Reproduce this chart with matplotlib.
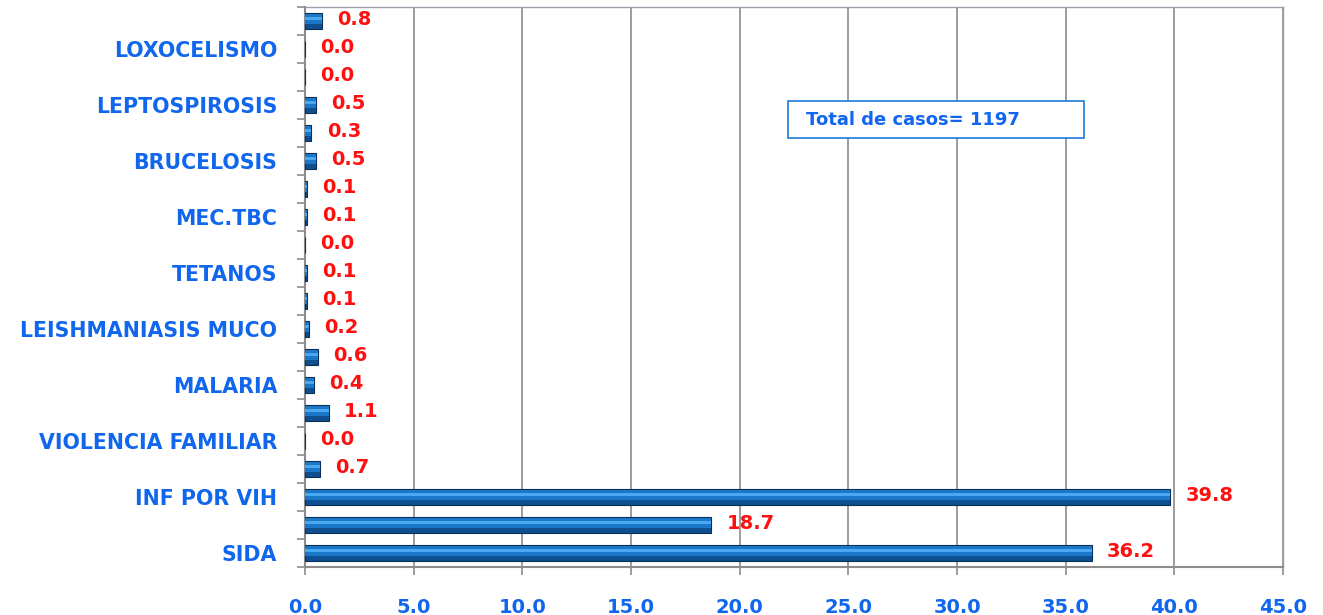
import matplotlib
matplotlib.use("Agg")
import matplotlib.pyplot as plt
from matplotlib.patches import Rectangle
import numpy as np

# bottom to top; only every other row carries a name in the original
categories = ["SIDA", "", "INF POR VIH", "", "VIOLENCIA FAMILIAR", "",
              "MALARIA", "", "LEISHMANIASIS MUCO", "", "TETANOS", "",
              "MEC.TBC", "", "BRUCELOSIS", "", "LEPTOSPIROSIS", "",
              "LOXOCELISMO", ""]
values = [36.2, 18.7, 39.8, 0.7, 0.0, 1.1, 0.4, 0.6, 0.2, 0.1,
          0.1, 0.0, 0.1, 0.1, 0.5, 0.3, 0.5, 0.0, 0.0, 0.8]
xticks = [0, 5, 10, 15, 20, 25, 30, 35, 40, 45]
total_text = "Total de casos= 1197"

blue_txt = "#1166ee"
gray = "#8c8c8c"

fig = plt.figure(figsize=(13.23, 6.15), dpi=100)
ax = fig.add_axes([0.2305, 0.078, 0.7393, 0.9106])

y = np.arange(len(values))
ax.barh(y, values, height=0.58, color="#0f4f8f", edgecolor="#0b2f57",
        linewidth=0.8, zorder=3)
# lighter bands to mimic the cylinder shading
ax.barh(y + 0.06, values, height=0.36, color="#1b78c8", linewidth=0, zorder=4)
ax.barh(y + 0.09, values, height=0.12, color="#4aa8ee", linewidth=0, zorder=4)

for yi, v in zip(y, values):
    ax.annotate(f"{v:.1f}", (v, yi), xytext=(11, 1), textcoords="offset points",
                ha="left", va="center", color="#ff1010", fontsize=14,
                fontweight="bold", zorder=5)

ax.set_xlim(0, 45)
ax.set_ylim(-0.5, len(values) - 0.5)
ax.set_xticks(xticks)
ax.set_xticklabels([f"{t:.1f}" for t in xticks])
ax.set_yticks(y)
ax.set_yticklabels(categories)
ax.set_yticks(np.arange(-0.5, len(values), 1.0), minor=True)

ax.tick_params(axis="y", which="major", length=0, pad=20, labelsize=14.8,
               labelcolor=blue_txt)
ax.tick_params(axis="y", which="minor", length=6, color=gray, width=1.2)
ax.tick_params(axis="x", length=6, color=gray, width=1.2, pad=16,
               labelsize=14, labelcolor=blue_txt)
for lbl in ax.get_xticklabels() + ax.get_yticklabels():
    lbl.set_fontweight("bold")

ax.grid(axis="x", color=gray, linewidth=1.2, zorder=0)
for s in ["left", "bottom"]:
    ax.spines[s].set_color(gray)
    ax.spines[s].set_linewidth(1.5)
for s in ["top", "right"]:
    ax.spines[s].set_color("#9aa0aa")
    ax.spines[s].set_linewidth(1.0)

ax.add_patch(Rectangle((0.494, 0.766), 0.302, 0.066, transform=ax.transAxes,
                       fill=True, facecolor="white", edgecolor="#1a7ad8",
                       linewidth=1.2, zorder=6))
ax.text(0.512, 0.799, total_text, transform=ax.transAxes, ha="left",
        va="center", color=blue_txt, fontsize=13, fontweight="bold",
        zorder=7)

fig.savefig("out.png", dpi=100)
